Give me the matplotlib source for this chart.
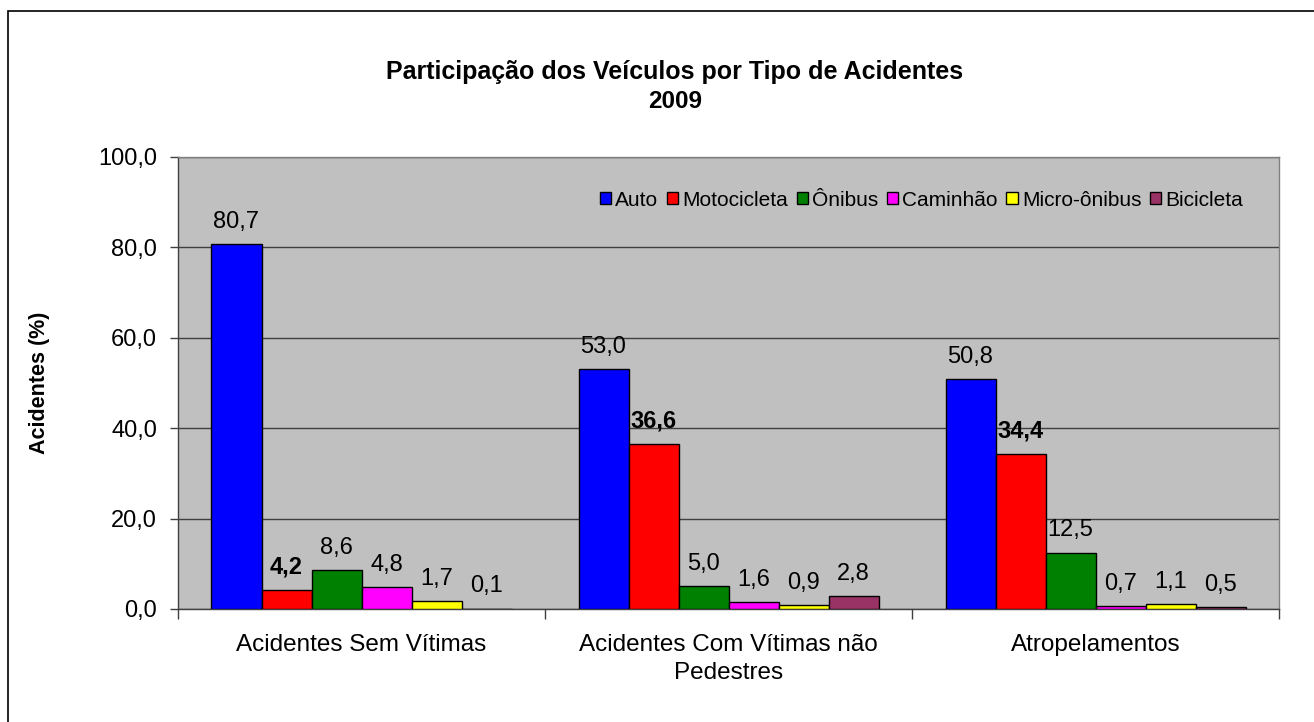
import matplotlib
matplotlib.use("Agg")
import matplotlib.pyplot as plt
from matplotlib.patches import Rectangle
import numpy as np

plt.rcParams['font.family'] = ['Liberation Sans', 'DejaVu Sans']

categories = ["Acidentes Sem Vítimas", "Acidentes Com Vítimas não\nPedestres", "Atropelamentos"]
series_names = ["Auto", "Motocicleta", "Ônibus", "Caminhão", "Micro-ônibus", "Bicicleta"]
auto = [80.7, 53.0, 50.8]
motocicleta = [4.2, 36.6, 34.4]
onibus = [8.6, 5.0, 12.5]
caminhao = [4.8, 1.6, 0.7]
micro_onibus = [1.7, 0.9, 1.1]
bicicleta = [0.1, 2.8, 0.5]
colors = ["#0000FF", "#FF0000", "#008000", "#FF00FF", "#FFFF00", "#993366"]
yticks = [0, 20, 40, 60, 80, 100]

series = [auto, motocicleta, onibus, caminhao, micro_onibus, bicicleta]

W, H = 1314, 722
fig = plt.figure(figsize=(W / 100, H / 100), dpi=100)
ax = fig.add_axes([178 / W, 1 - 609 / H, (1279 - 178) / W, (609 - 157) / H])
ax.set_facecolor("#C0C0C0")

x = np.arange(len(categories))
bw = 50 / 367
n = len(series)
for i, (vals, name, col) in enumerate(zip(series, series_names, colors)):
    pos = x + (i - (n - 1) / 2) * bw
    ax.bar(pos, vals, width=bw, color=col, edgecolor="black", linewidth=1.0,
           label=name, zorder=3)
    for xp, v in zip(pos, vals):
        ax.annotate(f"{v:.1f}".replace(".", ","), (xp, v), xytext=(0, 8),
                    textcoords="offset points", ha="center", va="bottom",
                    fontsize=17, fontweight="bold" if i == 1 else "normal",
                    color="black", zorder=4)

ax.set_xlim(-0.5, 2.5)
ax.set_ylim(0, 100)
ax.set_yticks(yticks)
ax.set_yticklabels([f"{t:.1f}".replace(".", ",") for t in yticks], fontsize=17)
ax.yaxis.grid(True, color="#404040", linewidth=1.0, zorder=1)
ax.set_axisbelow(True)
ax.tick_params(axis="y", direction="out", length=6, width=1, pad=9, color="#404040")

ax.set_xticks(x)
ax.set_xticklabels(categories, fontsize=17.5, linespacing=1.35)
ax.set_xticks([-0.5, 0.5, 1.5, 2.5], minor=True)
ax.tick_params(axis="x", which="major", length=0, pad=18)
ax.tick_params(axis="x", which="minor", direction="out", length=7, width=1, color="#404040")

for s in ["left", "bottom"]:
    ax.spines[s].set_color("#404040")
    ax.spines[s].set_linewidth(1.0)
for s in ["top", "right"]:
    ax.spines[s].set_color("#808080")
    ax.spines[s].set_linewidth(1.0)

ax.set_ylabel("Acidentes (%)", fontsize=15.5, fontweight="bold")
ax.yaxis.set_label_coords(-(178 - 50) / (1279 - 178), 0.5)

ax.legend(loc="center right", bbox_to_anchor=((1243 - 178) / (1279 - 178), (609 - 200) / (609 - 157)),
          ncol=6, frameon=False, fontsize=15, handlelength=0.55, handleheight=0.55,
          handletextpad=0.2, columnspacing=0.4, borderaxespad=0, borderpad=0)

fig.text(675 / W, 1 - 72 / H, "Participação dos Veículos por Tipo de Acidentes",
         ha="center", va="center", fontsize=18, fontweight="bold")
fig.text(675 / W, 1 - 101 / H, "2009", ha="center", va="center", fontsize=17.5, fontweight="bold")

fig.add_artist(Rectangle((7.5 / W, -0.1), 1.2, 1 - 10.5 / H + 0.1, transform=fig.transFigure,
                         fill=False, edgecolor="black", linewidth=1.2))

fig.savefig("out.png", dpi=100)
